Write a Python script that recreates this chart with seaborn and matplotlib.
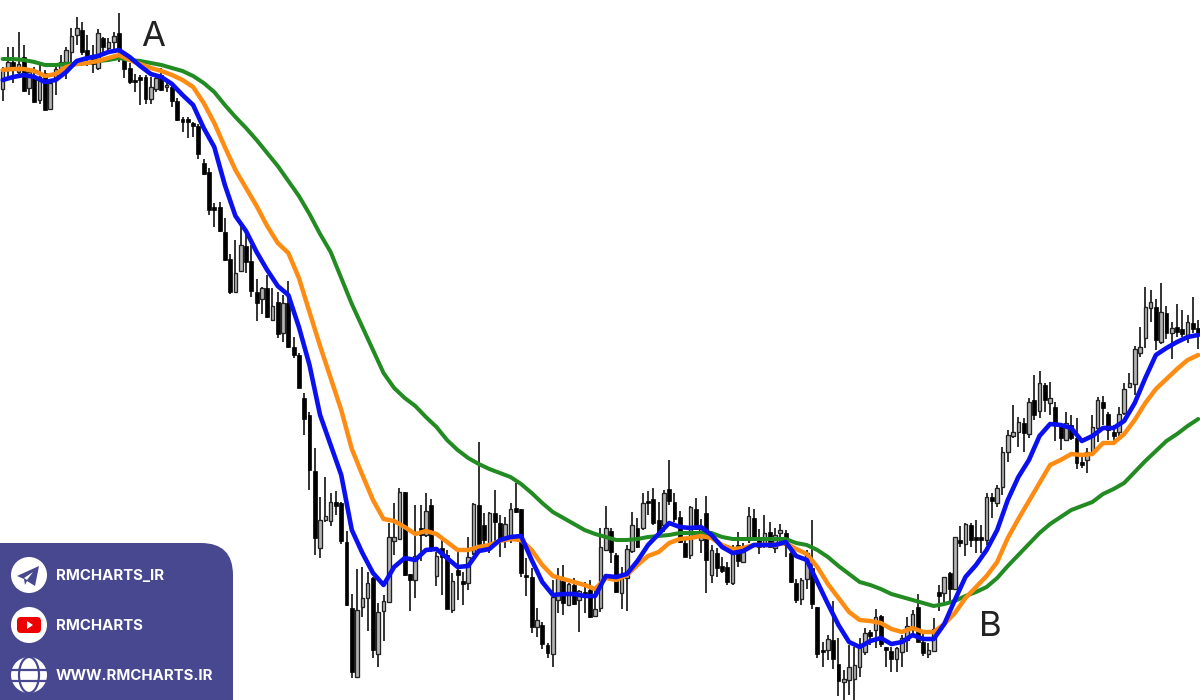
import pandas as pd
import matplotlib
matplotlib.use('Agg')
import matplotlib.pyplot as plt
import seaborn as sns
from matplotlib.patches import Circle, Ellipse, FancyBboxPatch, Polygon

# Velas (escala vertical propia del grafico, crece hacia abajo)
highs = [67,47,47,32,45,68,67,65,70,80,
         67,55,47,28,17,22,35,45,29,37,
         38,32,13,56,63,74,75,75,77,75,
         68,83,83,98,117,117,122,124,159,168,
         203,202,218,254,240,225,230,245,279,287,
         275,288,292,295,281,337,353,393,412,448,
         497,477,493,491,502,531,594,569,567,572,
         577,603,595,523,503,488,492,574,505,505,
         493,499,552,540,550,573,552,572,537,503,
         442,513,512,490,515,517,503,483,509,558,
         568,608,622,643,580,568,565,583,578,590,
         582,580,587,528,506,528,553,567,545,512,
         518,493,491,488,502,490,460,493,511,537,
         506,498,519,496,545,548,557,562,545,532,
         543,507,509,529,515,522,528,524,530,548,
         579,578,550,520,607,642,635,601,638,670,
         645,647,638,628,630,609,615,647,647,647,
         635,617,610,594,632,643,618,585,577,572,
         537,526,523,523,520,525,493,493,485,447,
         430,405,417,418,398,375,371,383,382,402,
         423,412,415,418,453,448,415,397,396,412,
         425,407,383,373,346,327,287,290,299,283,
         306,322,304,310,315,297,320]
lows = [101,78,83,77,92,95,103,104,110,110,
        95,70,79,63,45,55,66,73,70,54,
        50,50,62,78,84,92,105,104,104,92,
        91,92,107,121,132,138,137,159,175,215,
        227,232,261,294,292,272,273,297,321,314,
        318,321,338,342,348,358,388,435,490,555,
        558,522,526,515,544,606,678,677,617,631,
        658,667,641,603,555,540,576,611,598,561,
        537,552,586,595,609,613,600,605,590,555,
        545,545,553,542,557,548,543,513,577,596,
        633,637,649,658,667,613,615,605,605,632,
        613,618,617,612,550,563,593,609,611,553,
        548,530,515,525,533,532,505,522,543,557,
        559,530,553,593,583,577,573,585,585,567,
        563,543,540,554,548,548,553,542,557,583,
        603,605,589,609,658,667,660,669,696,700,
        695,700,677,655,645,648,647,667,672,672,
        667,652,637,642,656,658,652,611,602,602,
        590,547,556,547,553,553,545,518,507,495,
        462,438,447,452,438,420,418,412,415,441,
        450,441,440,469,468,473,454,442,425,440,
        443,437,415,388,395,357,348,322,350,344,
        339,359,337,337,343,333,349]
opens = [89,68,62,72,57,88,78,100,73,109,
         78,68,62,52,35,30,50,58,68,38,
         48,42,33,60,68,80,77,77,99,89,
         75,87,87,101,119,119,123,126,163,172,
         207,207,232,259,292,271,246,261,292,299,
         288,320,302,333,303,347,355,398,415,471,
         548,520,521,502,503,542,608,677,607,598,
         578,654,611,602,541,539,492,574,580,528,
         535,505,576,548,555,610,570,581,583,553,
         505,525,544,513,523,540,539,508,509,575,
         577,627,625,645,654,600,581,605,585,600,
         592,590,616,608,550,531,555,593,578,551,
         528,528,501,499,520,525,489,502,517,543,
         555,509,540,513,575,553,566,567,583,545,
         562,540,518,540,545,532,548,533,533,553,
         583,599,579,568,607,650,650,640,664,682,
         680,679,667,652,632,630,616,647,651,659,
         652,640,627,607,642,654,651,592,593,573,
         589,540,544,525,537,537,540,497,503,487,
         452,436,432,423,434,400,411,385,403,407,
         424,440,425,438,462,460,451,428,402,414,
         432,432,413,387,384,353,338,308,307,342,
         313,333,327,329,335,323,328]
closes = [69,62,70,64,91,72,102,77,110,83,
          69,62,50,36,28,52,58,64,33,47,
          42,36,50,69,82,82,80,99,87,78,
          90,85,101,120,122,122,126,154,174,210,
          210,231,260,292,273,245,262,291,303,288,
          317,306,334,303,347,355,388,419,470,538,
          520,516,502,506,541,605,672,610,598,583,
          650,612,601,537,537,492,575,580,556,535,
          511,548,556,557,609,581,575,584,557,504,
          544,540,513,522,540,524,509,512,573,577,
          627,620,644,653,597,578,603,584,604,591,
          597,617,609,547,528,552,592,578,549,525,
          547,503,503,523,533,493,501,519,542,557,
          507,529,529,560,550,568,571,582,550,561,
          552,516,537,547,533,547,535,530,545,582,
          600,580,553,604,654,652,639,659,681,679,
          667,665,647,633,636,617,644,650,659,648,
          638,626,614,642,653,650,629,596,577,589,
          537,543,524,540,540,540,497,501,488,452,
          435,432,422,433,402,415,383,400,398,423,
          438,423,438,463,465,452,427,400,408,430,
          436,414,389,383,349,347,307,302,340,312,
          333,328,332,334,322,329,333]

# Medias moviles, una lectura cada dos velas
ma_bars = list(range(0, 227, 2))
ma_blue = [80,77,75,77,82,80,72,61,58,56,
           52,50,57,66,74,77,84,95,105,128,
           147,185,216,231,252,270,286,295,327,365,
           415,445,475,530,553,573,585,567,558,560,
           550,549,558,567,566,551,549,540,537,536,
           560,582,595,594,594,596,596,576,577,574,
           561,545,534,523,527,528,527,535,547,553,
           551,545,545,545,542,556,560,582,604,625,
           642,647,641,638,644,642,635,639,639,624,
           600,577,565,550,530,500,477,460,436,424,
           425,428,441,436,428,428,421,403,378,355,
           348,342,337,335]
ma_orange = [70,69,69,71,76,74,67,64,63,61,
             58,55,60,64,68,71,75,80,87,103,
             123,147,170,188,206,226,243,253,278,312,
             346,378,410,449,475,500,519,521,527,534,
             531,534,542,550,550,547,545,541,539,540,
             550,565,576,579,582,585,589,578,580,575,
             565,556,552,543,539,538,536,538,545,549,
             548,545,545,545,543,549,554,567,584,598,
             612,620,621,623,629,632,628,632,632,624,
             613,598,587,576,562,538,519,501,483,465,
             460,454,455,454,443,443,434,420,403,389,
             379,369,360,355]
ma_green = [59,59,60,62,65,65,64,64,63,61,
            60,58,60,61,63,65,68,71,76,83,
            92,105,117,128,140,153,166,181,196,214,
            234,252,278,304,327,350,373,388,398,406,
            417,427,440,450,458,464,469,473,477,484,
            493,503,512,518,524,530,534,537,540,540,
            539,537,536,535,533,533,533,533,537,539,
            539,539,539,539,539,543,545,550,557,566,
            574,582,585,589,594,597,600,603,606,604,
            601,596,592,587,578,566,555,544,533,524,
            517,510,506,502,494,489,483,472,461,451,
            441,434,426,419]

# Textos
point_labels = ['A', 'B']
panel_labels = ['RMCHARTS_IR', 'RMCHARTS', 'WWW.RMCHARTS.IR']

candles = pd.DataFrame({'high': highs, 'low': lows, 'open': opens, 'close': closes})
candles['bar'] = candles.index
# la escala crece hacia abajo: vela alcista si el cierre queda por encima del open
candles['up'] = candles['close'] < candles['open']
mas = pd.DataFrame({'bar': ma_bars, 'blue': ma_blue, 'orange': ma_orange, 'green': ma_green})

sns.set_theme(style='white')
plt.rcParams['font.family'] = ['Inter', 'DejaVu Sans']

fig = plt.figure(figsize=(12, 7), dpi=100)
ax = fig.add_axes([0, 0, 1, 1])

# Mechas y cuerpos
ax.vlines(candles['bar'], candles['high'], candles['low'], color='#1a1a1a', linewidth=1.25, zorder=1)
up = candles[candles['up']]
down = candles[~candles['up']]
ax.bar(up['bar'], up['open'] - up['close'], bottom=up['close'], width=0.68,
       facecolor='#b4b4b4', edgecolor='#222222', linewidth=0.95, zorder=2)
ax.bar(down['bar'], down['close'] - down['open'], bottom=down['open'], width=0.74,
       facecolor='#000000', edgecolor='#000000', linewidth=0.5, zorder=2)

# Medias moviles
sns.lineplot(data=mas, x='bar', y='green', color='#228b22', linewidth=2.9, ax=ax, zorder=3)
sns.lineplot(data=mas, x='bar', y='orange', color='#ff8c12', linewidth=3.2, ax=ax, zorder=4)
sns.lineplot(data=mas, x='bar', y='blue', color='#0a10f0', linewidth=3.3, ax=ax, zorder=5)

ax.set_xlim(-0.505, 226.34)
ax.set_ylim(700, 0)
ax.axis('off')

# Capa en pixeles para letras y panel
over = fig.add_axes([0, 0, 1, 1])
over.set_xlim(0, 1200)
over.set_ylim(700, 0)
over.axis('off')
over.patch.set_alpha(0)

over.text(153.5, 37, point_labels[0], fontsize=25, color='#222222', ha='center', va='center')
over.text(990.5, 627, point_labels[1], fontsize=25, color='#222222', ha='center', va='center')

panel_color = '#474890'
over.add_patch(FancyBboxPatch((-60, 543 + 32), 293 - 32, 220, boxstyle='round,pad=32,rounding_size=32',
                              facecolor=panel_color, edgecolor='none', zorder=6))

for cy, label in zip([575, 625, 675], panel_labels):
    over.add_patch(Circle((29, cy), 18, facecolor='white', edgecolor='none', zorder=7))
    over.text(56, cy + 0.5, label, fontsize=10.8, fontweight='bold', color='white', ha='left', va='center', zorder=8)

# Telegram
over.add_patch(Polygon([(17, 576), (39, 566), (35, 586), (27, 581), (25, 585), (24, 579)],
                       facecolor=panel_color, edgecolor='none', zorder=8))
over.add_patch(Polygon([(24, 578), (33, 572), (27, 580)], facecolor='white', edgecolor='none', zorder=9))
# YouTube
over.add_patch(FancyBboxPatch((21, 621), 16, 8, boxstyle='round,pad=4,rounding_size=4',
                              facecolor='#ee0000', edgecolor='none', zorder=8))
over.add_patch(Polygon([(27, 621), (33, 625), (27, 629)], facecolor='white', edgecolor='none', zorder=9))
# Globo
over.plot([11, 47], [669.5, 669.5], color=panel_color, linewidth=1.6, zorder=8)
over.plot([11, 47], [680.5, 680.5], color=panel_color, linewidth=1.6, zorder=8)
over.add_patch(Ellipse((29, 675), 20, 36, facecolor='none', edgecolor=panel_color, linewidth=1.6, zorder=8))

fig.savefig('out.png', dpi=100)
